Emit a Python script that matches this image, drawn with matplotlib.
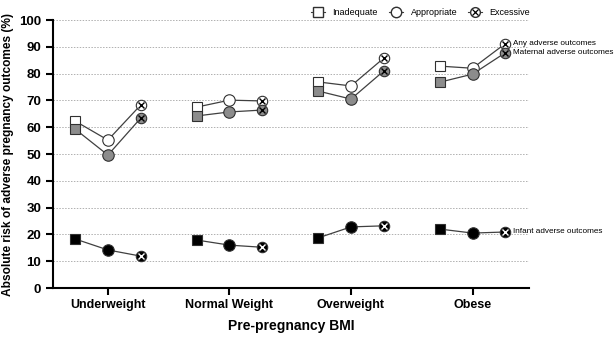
import numpy as np
import matplotlib.pyplot as plt

plt.rcParams['font.family'] = ['Liberation Sans', 'DejaVu Sans']

categories = ["Underweight", "Normal Weight", "Overweight", "Obese"]
gwg = ["Inadequate", "Appropriate", "Excessive"]

# values per category: [inadequate, appropriate, excessive]
any_adverse = [[62.3, 55.2, 68.3], [67.5, 70.1, 69.8], [76.9, 75.4, 85.8], [82.8, 82.0, 91.2]]
maternal_adverse = [[59.3, 49.6, 63.4], [64.2, 65.7, 66.4], [73.5, 70.5, 81.0], [76.8, 79.8, 87.8]]
infant_adverse = [[18.3, 14.2, 11.9], [17.9, 16.0, 15.2], [18.7, 22.8, 23.2], [22.0, 20.5, 20.9]]

fig = plt.figure(figsize=(6.14, 3.41), dpi=100)
ax = fig.add_axes([0.0863, 0.1554, 0.7753, 0.7859])

pos = np.arange(1, 5)
off = 0.27
ms = 7.5
linec = '#404040'

series = [
    (any_adverse, 'white', 'black', "Any adverse outcomes"),
    (maternal_adverse, '#8c8c8c', 'black', "Maternal adverse outcomes"),
    (infant_adverse, 'black', 'white', "Infant adverse outcomes"),
]

for vals, fc, xc, lab in series:
    for i, p in enumerate(pos):
        xs = [p - off, p, p + off]
        v = vals[i]
        ax.plot(xs, v, '-', color=linec, lw=0.9, zorder=2)
        ax.plot(xs[0], v[0], 's', ms=ms * 0.95, mfc=fc, mec='#303030', mew=0.8, zorder=3)
        ax.plot(xs[1], v[1], 'o', ms=ms * 1.1, mfc=fc, mec='#303030', mew=0.8, zorder=3)
        ax.plot(xs[2], v[2], 'o', ms=ms, mfc=fc, mec='#303030', mew=0.8, zorder=3)
        ax.plot(xs[2], v[2], 'x', ms=ms * 0.6, mec=xc, mew=1.0, zorder=4)
    ax.text(pos[-1] + off + 0.06, vals[-1][2], lab, fontsize=5.9, va='center', ha='left',
            clip_on=False)

ax.set_xlim(0.548, 4.465)
ax.set_ylim(0, 100)
ax.set_yticks(np.arange(0, 101, 10))
ax.set_xticks(pos)
ax.set_xticklabels(categories, fontweight='bold', fontsize=9)
for t in ax.get_yticklabels():
    t.set_fontweight('bold')
    t.set_fontsize(9.5)
for y in range(10, 101, 10):
    ax.axhline(y, color='#b0b0b0', lw=0.7, ls=(0, (1.5, 1.5)), zorder=0)

ax.spines['top'].set_visible(False)
ax.spines['right'].set_visible(False)
ax.spines['left'].set_linewidth(1.5)
ax.spines['bottom'].set_linewidth(1.5)
ax.tick_params(axis='both', width=1.5, length=5)
ax.tick_params(axis='x', pad=3)

ax.set_ylabel("Absolute risk of adverse pregnancy outcomes (%)", fontweight='bold', fontsize=8.6,
              labelpad=4)
ax.set_xlabel("Pre-pregnancy BMI", fontweight='bold', fontsize=10, labelpad=6)

# legend
h1, = ax.plot([], [], '-s', color=linec, lw=0.8, ms=6.5, mfc='white', mec='#303030')
h2, = ax.plot([], [], '-o', color=linec, lw=0.8, ms=7.5, mfc='white', mec='#303030')
h3, = ax.plot([], [], '-o', color=linec, lw=0.8, ms=7, mfc='white', mec='#303030')
h3x, = ax.plot([], [], 'x', ms=4.2, mec='black', mew=0.9)
fig.legend([h1, h2, (h3, h3x)], gwg, loc='center', bbox_to_anchor=(0.685, 0.962), ncol=3,
           frameon=False, fontsize=6.5, handlelength=1.6, columnspacing=1.2, handletextpad=0.8)

fig.savefig("out.png", dpi=100)
